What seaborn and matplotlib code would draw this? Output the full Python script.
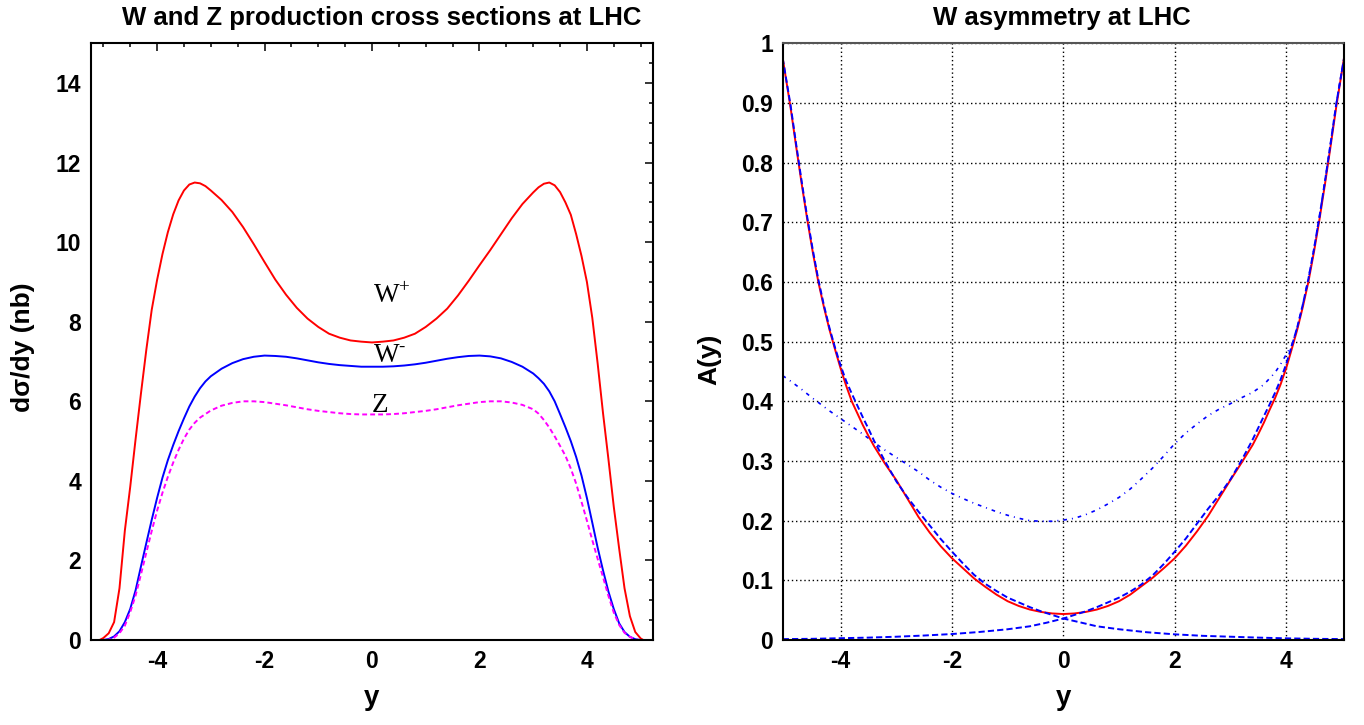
import matplotlib
matplotlib.use('Agg')
import matplotlib.pyplot as plt
import seaborn as sns
from matplotlib.ticker import MultipleLocator

sns.set_theme(style='white')
plt.rcParams['font.family'] = ['Liberation Sans', 'DejaVu Sans']
plt.rcParams['mathtext.fontset'] = 'custom'
plt.rcParams['mathtext.rm'] = 'Liberation Serif'
plt.rcParams['axes.unicode_minus'] = False
for k in ('text.color', 'axes.labelcolor', 'xtick.color', 'ytick.color'):
    plt.rcParams[k] = 'black'

# --- datos: secciones eficaces (nb) ---
y_wp = [-5.07, -5.0, -4.9, -4.8, -4.7, -4.6, -4.5, -4.4, -4.3, -4.2, -4.1, -4.0, -3.9, -3.8,
        -3.7, -3.6, -3.5, -3.4, -3.3, -3.2, -3.1, -3.0, -2.8, -2.6, -2.4, -2.2, -2.0, -1.8,
        -1.6, -1.4, -1.2, -1.0, -0.8, -0.6, -0.4, -0.2, 0.0, 0.2, 0.4, 0.6, 0.8, 1.0, 1.2,
        1.4, 1.6, 1.8, 2.0, 2.2, 2.4, 2.6, 2.8, 3.0, 3.1, 3.2, 3.3, 3.4, 3.5, 3.6, 3.7,
        3.8, 3.9, 4.0, 4.1, 4.2, 4.3, 4.4, 4.5, 4.6, 4.7, 4.8, 4.9, 5.0, 5.05]
s_wp = [0.0, 0.05, 0.17, 0.45, 1.3, 2.75, 3.85, 5.05, 6.2, 7.3, 8.3, 9.05, 9.7, 10.25,
        10.7, 11.05, 11.3, 11.45, 11.5, 11.48, 11.41, 11.3, 11.06, 10.76, 10.38, 9.95, 9.5, 9.06,
        8.68, 8.35, 8.08, 7.87, 7.7, 7.6, 7.53, 7.5, 7.48, 7.5, 7.53, 7.6, 7.7, 7.87, 8.08,
        8.33, 8.66, 9.03, 9.42, 9.8, 10.2, 10.6, 10.96, 11.25, 11.38, 11.47, 11.5, 11.43, 11.26,
        11.0, 10.69, 10.2, 9.65, 9.0, 8.1, 6.95, 5.7, 4.55, 3.35, 2.3, 1.3, 0.6, 0.2, 0.04, 0.0]

y_wm = [-5.0, -4.9, -4.8, -4.7, -4.6, -4.5, -4.4, -4.3, -4.2, -4.1, -4.0, -3.9, -3.8, -3.7,
        -3.6, -3.5, -3.4, -3.3, -3.2, -3.1, -3.0, -2.8, -2.6, -2.4, -2.2, -2.0, -1.8, -1.6,
        -1.4, -1.2, -1.0, -0.8, -0.6, -0.4, -0.2, 0.0, 0.2, 0.4, 0.6, 0.8, 1.0, 1.2, 1.4,
        1.6, 1.8, 2.0, 2.2, 2.4, 2.6, 2.8, 3.0, 3.1, 3.2, 3.3, 3.4, 3.5, 3.6, 3.7, 3.8, 3.9,
        4.0, 4.1, 4.2, 4.3, 4.4, 4.5, 4.6, 4.7, 4.8, 4.9, 5.0]
s_wm = [0.0, 0.025, 0.09, 0.22, 0.45, 0.78, 1.25, 1.85, 2.44, 3.02, 3.57, 4.08, 4.52, 4.9,
        5.25, 5.57, 5.87, 6.12, 6.33, 6.5, 6.63, 6.82, 6.96, 7.06, 7.12, 7.15, 7.14, 7.12,
        7.08, 7.03, 6.98, 6.94, 6.91, 6.89, 6.87, 6.87, 6.87, 6.88, 6.9, 6.93, 6.97, 7.02, 7.07,
        7.11, 7.14, 7.15, 7.13, 7.08, 6.99, 6.87, 6.7, 6.58, 6.44, 6.25, 6.0, 5.68, 5.35, 5.0,
        4.6, 4.13, 3.57, 2.95, 2.32, 1.75, 1.22, 0.78, 0.42, 0.2, 0.08, 0.02, 0.0]

y_z = [-4.95, -4.9, -4.8, -4.7, -4.6, -4.5, -4.4, -4.3, -4.2, -4.1, -4.0, -3.9, -3.8, -3.7,
       -3.6, -3.5, -3.4, -3.3, -3.2, -3.0, -2.8, -2.6, -2.4, -2.2, -2.0, -1.8, -1.6, -1.4,
       -1.2, -1.0, -0.8, -0.6, -0.4, -0.2, 0.0, 0.2, 0.4, 0.6, 0.8, 1.0, 1.2, 1.4, 1.6, 1.8,
       2.0, 2.2, 2.4, 2.6, 2.8, 3.0, 3.1, 3.2, 3.3, 3.4, 3.5, 3.6, 3.7, 3.8, 3.9, 4.0, 4.1,
       4.2, 4.3, 4.4, 4.5, 4.6, 4.7, 4.8, 4.9, 4.95]
s_z = [0.0, 0.01, 0.06, 0.17, 0.36, 0.7, 1.12, 1.65, 2.2, 2.74, 3.25, 3.7, 4.1, 4.46,
       4.78, 5.06, 5.29, 5.46, 5.59, 5.77, 5.89, 5.96, 6.0, 6.0, 5.98, 5.94, 5.9, 5.85,
       5.8, 5.76, 5.73, 5.7, 5.68, 5.67, 5.67, 5.67, 5.68, 5.7, 5.73, 5.76, 5.8, 5.85, 5.9, 5.94,
       5.98, 6.0, 6.0, 5.97, 5.91, 5.8, 5.69, 5.53, 5.34, 5.12, 4.88, 4.63, 4.31, 3.93, 3.47, 3.0, 2.51,
       2.04, 1.58, 1.11, 0.69, 0.38, 0.18, 0.08, 0.02, 0.0]

# --- asimetria A(y) ---
y_asym = [-5.04, -4.9, -4.8, -4.7, -4.6, -4.5, -4.4, -4.3, -4.2, -4.1, -4.0, -3.9, -3.8, -3.7,
          -3.6, -3.5, -3.4, -3.2, -3.0, -2.8, -2.6, -2.4, -2.2, -2.0, -1.8, -1.6, -1.4, -1.2,
          -1.0, -0.8, -0.6, -0.4, -0.2, 0.0, 0.2, 0.4, 0.6, 0.8, 1.0, 1.2, 1.4, 1.6, 1.8, 2.0,
          2.2, 2.4, 2.6, 2.8, 3.0, 3.2, 3.4, 3.5, 3.6, 3.7, 3.8, 3.9, 4.0, 4.1, 4.2, 4.3, 4.4,
          4.5, 4.6, 4.7, 4.8, 4.9, 5.04]
a_tot = [0.975, 0.893, 0.828, 0.765, 0.705, 0.65, 0.6, 0.558, 0.52, 0.487, 0.455, 0.426, 0.4, 0.38,
         0.36, 0.342, 0.325, 0.295, 0.268, 0.237, 0.206, 0.18, 0.157, 0.137, 0.12, 0.103, 0.089, 0.076,
         0.065, 0.057, 0.051, 0.047, 0.0445, 0.0435, 0.0445, 0.047, 0.051, 0.057, 0.065, 0.076, 0.09, 0.104, 0.12, 0.137,
         0.158, 0.182, 0.208, 0.238, 0.268, 0.297, 0.327, 0.345, 0.364, 0.385, 0.405, 0.428, 0.455, 0.487, 0.52, 0.558, 0.6,
         0.65, 0.705, 0.765, 0.828, 0.893, 0.975]

y_val = [-5.04, -4.9, -4.8, -4.7, -4.6, -4.5, -4.4, -4.3, -4.2, -4.1, -4.0, -3.9, -3.8, -3.7,
         -3.6, -3.5, -3.4, -3.2, -3.0, -2.8, -2.6, -2.4, -2.2, -2.0, -1.8, -1.6, -1.4, -1.2,
         -1.0, -0.8, -0.6, -0.4, -0.2, 0.0, 0.3, 0.6, 1.0, 1.5, 2.0, 2.5, 3.0, 3.5, 4.0, 4.5, 5.04]
a_val_m = [0.975, 0.897, 0.832, 0.769, 0.709, 0.654, 0.604, 0.561, 0.523, 0.49, 0.46, 0.434, 0.413, 0.393,
           0.373, 0.354, 0.334, 0.299, 0.266, 0.239, 0.215, 0.192, 0.169, 0.148, 0.128, 0.109, 0.094, 0.082,
           0.071, 0.063, 0.055, 0.048, 0.042, 0.036, 0.0296, 0.023, 0.018, 0.013, 0.0095, 0.007, 0.0055, 0.004,
           0.0028, 0.002, 0.0015]

y_val2 = [-5.04, -4.5, -4.0, -3.5, -3.0, -2.5, -2.0, -1.5, -1.0, -0.6, -0.3, 0.0, 0.2, 0.4, 0.6,
          0.8, 1.0, 1.2, 1.4, 1.6, 1.8, 2.0, 2.2, 2.4, 2.6, 2.8, 3.0, 3.2, 3.4, 3.6, 3.7, 3.8,
          3.9, 4.0, 4.1, 4.2, 4.3, 4.4, 4.5, 4.6, 4.7, 4.8, 4.9, 5.04]
a_val_p = [0.0015, 0.002, 0.003, 0.004, 0.0055, 0.0075, 0.01, 0.0135, 0.018, 0.023, 0.029, 0.036, 0.042, 0.048, 0.055,
           0.063, 0.071, 0.081, 0.093, 0.108, 0.127, 0.148, 0.17, 0.195, 0.22, 0.243, 0.269, 0.301, 0.336, 0.375, 0.394, 0.414,
           0.436, 0.462, 0.492, 0.524, 0.562, 0.605, 0.655, 0.71, 0.77, 0.833, 0.898, 0.975]

y_sea = [-5.04, -4.9, -4.7, -4.5, -4.37, -4.2, -4.0, -3.8, -3.6, -3.4, -3.2, -3.0, -2.8, -2.6,
         -2.4, -2.2, -2.0, -1.8, -1.6, -1.4, -1.2, -1.0, -0.8, -0.6, -0.4, -0.2, 0.0, 0.2, 0.4,
         0.6, 0.8, 1.0, 1.2, 1.4, 1.6, 1.8, 2.0, 2.2, 2.4, 2.6, 2.8, 3.0, 3.2, 3.4, 3.6, 3.8,
         3.9, 4.0, 4.1, 4.2, 4.3, 4.4, 4.5, 4.6, 4.7, 4.8, 4.9, 5.04]
a_sea = [0.443, 0.434, 0.42, 0.405, 0.396, 0.384, 0.371, 0.358, 0.345, 0.331, 0.318, 0.306, 0.294, 0.282,
         0.268, 0.256, 0.2457, 0.237, 0.229, 0.222, 0.215, 0.209, 0.204, 0.2, 0.199, 0.199, 0.201, 0.204, 0.21,
         0.218, 0.228, 0.239, 0.253, 0.27, 0.288, 0.308, 0.329, 0.347, 0.362, 0.376, 0.387, 0.396, 0.406, 0.415, 0.428, 0.448,
         0.462, 0.478, 0.494, 0.524, 0.562, 0.605, 0.655, 0.71, 0.77, 0.833, 0.898, 0.975]

ticks_x = [-4, -2, 0, 2, 4]
labels_x = ['-4', '-2', '0', '2', '4']
ticks_sig = [0, 2, 4, 6, 8, 10, 12, 14]
labels_sig = ['0', '2', '4', '6', '8', '10', '12', '14']
ticks_a = [0, 0.1, 0.2, 0.3, 0.4, 0.5, 0.6, 0.7, 0.8, 0.9, 1.0]
labels_a = ['0', '0.1', '0.2', '0.3', '0.4', '0.5', '0.6', '0.7', '0.8', '0.9', '1']

# --- lienzo ---
W, H = 1364, 725
fig = plt.figure(figsize=(W / 100, H / 100), dpi=100)
fig.patch.set_facecolor('white')
ax1 = fig.add_axes([91 / W, 1 - 640 / H, 562 / W, 596.7 / H])
ax2 = fig.add_axes([782.7 / W, 1 - 640 / H, 561.3 / W, 596.7 / H])

lw = 1.4
tick_fs = 16.5
# panel izquierdo
sns.lineplot(x=y_wp, y=s_wp, ax=ax1, color='#ff0000', lw=lw, estimator=None)
sns.lineplot(x=y_wm, y=s_wm, ax=ax1, color='#0000ff', lw=lw, estimator=None)
sns.lineplot(x=y_z, y=s_z, ax=ax1, color='#ff00ff', lw=lw, estimator=None,
             linestyle=(0, (2.5, 1.6)))

ax1.text(0.02, 8.47, r'$\mathrm{W}^{+}$', fontsize=19.5, va='baseline', ha='left')
ax1.text(0.02, 6.98, r'$\mathrm{W}^{\text{-}}$', fontsize=19.5, va='baseline', ha='left')
ax1.text(0.0, 5.74, 'Z', family='Liberation Serif', fontsize=19.5, va='baseline', ha='left')

ax1.set_xlim(-5.23, 5.23)
ax1.set_ylim(0, 15)
ax1.set_xticks(ticks_x)
ax1.set_xticklabels(labels_x, fontsize=tick_fs, fontweight='bold')
ax1.set_yticks(ticks_sig)
ax1.set_yticklabels(labels_sig, fontsize=tick_fs, fontweight='bold')
ax1.xaxis.set_minor_locator(MultipleLocator(0.5))
ax1.yaxis.set_minor_locator(MultipleLocator(0.5))
ax1.tick_params(which='both', direction='in', top=True, right=True, width=1.1, color='black')
ax1.tick_params(which='major', length=6, pad=7)
ax1.tick_params(which='minor', length=3)
ax1.set_xlabel('y', fontsize=20, fontweight='bold')
ax1.set_ylabel('dσ/dy (nb)', fontsize=19, fontweight='bold')
ax1.xaxis.set_label_coords(0.5, -0.075)
ax1.yaxis.set_label_coords(-0.1, 0.49)

# panel derecho
ax2.grid(True, which='major', color='black', linestyle=(0, (1, 2)), linewidth=1.0)
sns.lineplot(x=y_asym, y=a_tot, ax=ax2, color='#ff0000', lw=lw, estimator=None)
sns.lineplot(x=y_val, y=a_val_m, ax=ax2, color='#0000ff', lw=lw, estimator=None,
             linestyle=(0, (3.2, 1.6)))
sns.lineplot(x=y_val2, y=a_val_p, ax=ax2, color='#0000ff', lw=lw, estimator=None,
             linestyle=(0, (3.2, 1.6)))
sns.lineplot(x=y_sea, y=a_sea, ax=ax2, color='#0000ff', lw=1.2, estimator=None,
             linestyle=(0, (2.2, 3.0, 0.6, 3.0)))

ax2.set_xlim(-5.04, 5.04)
ax2.set_ylim(0, 1)
ax2.set_xticks(ticks_x)
ax2.set_xticklabels(labels_x, fontsize=tick_fs, fontweight='bold')
ax2.set_yticks(ticks_a)
ax2.set_yticklabels(labels_a, fontsize=tick_fs, fontweight='bold')
ax2.xaxis.set_minor_locator(MultipleLocator(0.5))
ax2.yaxis.set_minor_locator(MultipleLocator(0.02))
ax2.tick_params(which='both', direction='in', top=False, right=False, width=1.1, color='black')
ax2.tick_params(which='major', length=6, pad=7)
ax2.tick_params(which='minor', length=3)
ax2.set_xlabel('y', fontsize=20, fontweight='bold')
ax2.set_ylabel('A(y)', fontsize=19, fontweight='bold')
ax2.xaxis.set_label_coords(0.5, -0.075)
ax2.yaxis.set_label_coords(-0.11, 0.47)

for ax in (ax1, ax2):
    for sp in ax.spines.values():
        sp.set_color('black')
        sp.set_linewidth(1.5)
ax2.spines['top'].set_color('#555555')
ax2.spines['top'].set_linestyle((0, (1, 1)))

fig.text(382 / W, 1 - 25 / H, 'W and Z production cross sections at LHC',
         fontsize=18.5, fontweight='bold', ha='center', va='baseline')
fig.text(1062 / W, 1 - 25 / H, 'W asymmetry at LHC',
         fontsize=18.5, fontweight='bold', ha='center', va='baseline')

plt.savefig('out.png', dpi=100, facecolor='white')
